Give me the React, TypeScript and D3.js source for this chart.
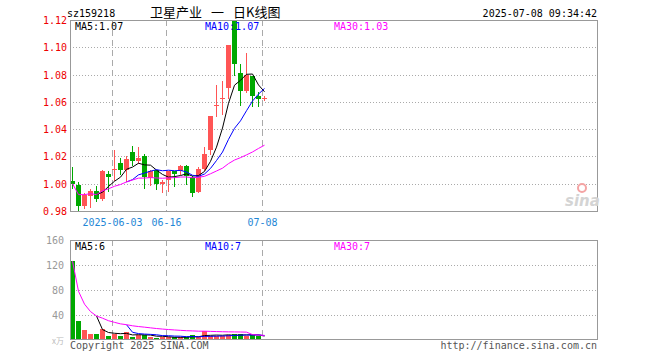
import React, { useRef, useEffect } from 'react'
import * as d3 from 'd3'

// trading days shown on the chart
const dates = [
  '2025-05-22', '2025-05-23', '2025-05-26', '2025-05-27', '2025-05-28', '2025-05-29', '2025-05-30',
  '2025-06-03', '2025-06-04', '2025-06-05', '2025-06-06', '2025-06-09', '2025-06-10', '2025-06-11',
  '2025-06-12', '2025-06-13', '2025-06-16', '2025-06-17', '2025-06-18', '2025-06-19', '2025-06-20',
  '2025-06-23', '2025-06-24', '2025-06-25', '2025-06-26', '2025-06-27', '2025-06-30', '2025-07-01',
  '2025-07-02', '2025-07-03', '2025-07-04', '2025-07-07', '2025-07-08',
]
const opens = [1.002, 0.999, 0.984, 0.991, 0.995, 0.989, 1.007, 1.010, 1.015, 1.010, 1.023, 1.017, 1.020, 1.004, 1.010, 1.000, 1.003, 1.009, 1.009, 1.013, 1.005, 0.994, 1.011, 1.025, 1.057, 1.062, 1.070, 1.120, 1.081, 1.068, 1.079, 1.064, 1.062]
const highs = [1.012, 1.001, 0.993, 0.996, 0.998, 1.010, 1.009, 1.025, 1.019, 1.020, 1.028, 1.027, 1.022, 1.010, 1.010, 1.003, 1.009, 1.009, 1.014, 1.014, 1.006, 1.012, 1.027, 1.050, 1.072, 1.075, 1.102, 1.120, 1.088, 1.096, 1.079, 1.067, 1.064]
const lows = [0.997, 0.981, 0.982, 0.983, 0.987, 0.988, 0.995, 1.003, 1.007, 1.002, 1.014, 1.015, 0.997, 0.999, 0.996, 0.994, 0.995, 0.998, 1.007, 1.000, 0.991, 0.994, 1.010, 1.022, 1.050, 1.051, 1.063, 1.080, 1.058, 1.067, 1.057, 1.057, 1.061]
const closes = [1.000, 0.984, 0.992, 0.995, 0.989, 1.009, 1.005, 1.011, 1.010, 1.018, 1.017, 1.019, 1.005, 1.009, 1.000, 1.001, 1.009, 1.007, 1.013, 1.006, 0.993, 1.011, 1.022, 1.050, 1.058, 1.063, 1.102, 1.088, 1.068, 1.080, 1.064, 1.062, 1.063]
// volume in 万
const volumes = [126, 30, 16, 10, 10, 17.5, 6.5, 10, 6.5, 12.5, 5, 8.5, 8.5, 5, 3.5, 4.5, 4.5, 4.5, 4.5, 4.5, 8, 4.5, 14, 6.5, 6.5, 6.5, 8, 10, 9, 7, 8, 6.5, 1.5]

const markDates = ['2025-06-03', '2025-06-16', '2025-07-08']
const markLabels = ['2025-06-03', '06-16', '07-08']
const priceTicks = [0.98, 1.0, 1.02, 1.04, 1.06, 1.08, 1.1, 1.12]
const volTicks = [40, 80, 120, 160]

const RED = '#ff5555'
const GREEN = '#00a800'
const MA_COLORS = ['#000000', '#0000ff', '#ff00ff']

// MA5 / MA10 start when enough data, MA30 averages what is there
const movingAvg = (arr: number[], n: number, partial: boolean) =>
  arr.map((v, i) => (i < n - 1 ? (partial ? d3.mean(arr.slice(0, i + 1)) : null) : d3.mean(arr.slice(i - n + 1, i + 1))))

const App = () => {
  const svgRef = useRef<SVGSVGElement>(null)

  useEffect(() => {
    const svg = d3.select(svgRef.current)
    svg.selectAll('*').remove()
    const mono = 'DejaVu Sans Mono, monospace'

    const left = 70, right = 597
    const x = d3.scaleBand<string>().domain(dates).range([left, left + 6 * dates.length])
    const y = d3.scaleLinear().domain([0.98, 1.12]).range([211, 20])
    const yv = d3.scaleLinear().domain([0, 160]).range([340, 240])
    const bx = (i: number) => x(dates[i]) as number
    const crisp = (v: number) => Math.round(v) + 0.5

    svg.append('rect').attr('width', 660).attr('height', 360).attr('fill', '#fff')

    // horizontal dotted grid
    priceTicks.slice(1, -1).forEach(t => {
      svg.append('line').attr('x1', left).attr('x2', right).attr('y1', crisp(y(t))).attr('y2', crisp(y(t)))
        .attr('stroke', '#aaa').attr('stroke-dasharray', '1,2')
    })
    volTicks.slice(0, -1).forEach(t => {
      svg.append('line').attr('x1', left).attr('x2', right).attr('y1', crisp(yv(t))).attr('y2', crisp(yv(t)))
        .attr('stroke', '#aaa').attr('stroke-dasharray', '1,2')
    })

    // vertical dashed date lines
    markDates.forEach((d, k) => {
      const xx = crisp(x(d) as number)
      ;[[20, 211], [240, 340]].forEach(([t, b]) => {
        svg.append('line').attr('x1', xx).attr('x2', xx).attr('y1', t).attr('y2', b)
          .attr('stroke', '#aaa').attr('stroke-dasharray', '6,4')
      })
      svg.append('text').attr('x', xx).attr('y', 226).attr('text-anchor', 'middle')
        .attr('font-family', mono).attr('font-size', 10).attr('fill', '#1f87d6').text(markLabels[k])
    })

    // candles
    dates.forEach((d, i) => {
      const up = closes[i] >= opens[i]
      const col = up ? RED : GREEN
      const xs = bx(i)
      svg.append('line').attr('x1', xs + 2.5).attr('x2', xs + 2.5)
        .attr('y1', Math.round(y(highs[i]))).attr('y2', Math.round(y(lows[i])) + 1).attr('stroke', col)
      const top = Math.round(y(Math.max(opens[i], closes[i])))
      const bot = Math.round(y(Math.min(opens[i], closes[i])))
      svg.append('rect').attr('x', xs).attr('width', 5).attr('y', top).attr('height', Math.max(1, bot - top)).attr('fill', col)

      const vt = Math.round(yv(volumes[i]))
      svg.append('rect').attr('x', xs).attr('width', 5).attr('y', vt).attr('height', 340 - vt).attr('fill', col)
    })

    // moving averages
    const spans: [number, boolean][] = [[5, false], [10, false], [30, true]]
    const priceMA = spans.map(([n, p]) => movingAvg(closes, n, p))
    const volMA = spans.map(([n, p]) => movingAvg(volumes, n, p))
    const drawMA = (series: (number | null | undefined)[], scale: d3.ScaleLinear<number, number>, color: string) => {
      const ln = d3.line<[number, number | null | undefined]>()
        .defined(d => d[1] != null)
        .x(d => bx(d[0]) + 2.5)
        .y(d => scale(d[1] as number))
      svg.append('path').datum(series.map((v, i) => [i, v] as [number, number | null | undefined]))
        .attr('d', ln).attr('fill', 'none').attr('stroke', color).attr('stroke-width', 1)
    }
    priceMA.forEach((s, k) => drawMA(s, y, MA_COLORS[k]))
    volMA.forEach((s, k) => drawMA(s, yv, MA_COLORS[k]))

    // panel borders
    svg.append('rect').attr('x', left + 0.5).attr('y', 20.5).attr('width', right - left).attr('height', 191)
      .attr('fill', 'none').attr('stroke', '#999')
    svg.append('rect').attr('x', left + 0.5).attr('y', 240.5).attr('width', right - left).attr('height', 99)
      .attr('fill', 'none').attr('stroke', '#999')

    // axis labels
    priceTicks.forEach(t => {
      svg.append('text').attr('x', 67).attr('y', y(t) + 4).attr('text-anchor', 'end')
        .attr('font-family', mono).attr('font-size', 10).attr('fill', '#ee0000').text(d3.format('.2f')(t))
    })
    volTicks.forEach(t => {
      svg.append('text').attr('x', 64).attr('y', yv(t) + 4).attr('text-anchor', 'end')
        .attr('font-family', mono).attr('font-size', 10).attr('fill', '#999').text(t)
    })
    svg.append('text').attr('x', 64).attr('y', 344).attr('text-anchor', 'end')
      .attr('font-family', 'Noto Sans CJK SC').attr('font-size', 8).attr('fill', '#bbb').text('x万')

    // MA readouts
    const last = dates.length - 1
    const maNames = ['MA5', 'MA10', 'MA30']
    const maX = [75, 205, 334]
    maNames.forEach((m, k) => {
      svg.append('text').attr('x', maX[k]).attr('y', 30).attr('font-family', mono).attr('font-size', 10)
        .attr('fill', MA_COLORS[k]).text(`${m}:${d3.format('.2f')(priceMA[k][last] as number)}`)
      svg.append('text').attr('x', maX[k]).attr('y', 250).attr('font-family', mono).attr('font-size', 10)
        .attr('fill', MA_COLORS[k]).text(`${m}:${Math.round(volMA[k][last] as number)}`)
    })

    // header
    svg.append('text').attr('x', 67).attr('y', 17).attr('font-family', mono).attr('font-size', 10).text('sz159218')
    const title = svg.append('text').attr('y', 17).attr('font-family', 'Noto Sans CJK SC').attr('font-size', 13)
    title.append('tspan').attr('x', 150).text('卫星产业')
    title.append('tspan').attr('x', 211).text('一')
    title.append('tspan').attr('x', 233).text('日K线图')
    svg.append('text').attr('x', 597).attr('y', 17).attr('text-anchor', 'end').attr('font-family', mono)
      .attr('font-size', 10).text('2025-07-08 09:34:42')

    // footer
    svg.append('text').attr('x', 70).attr('y', 349).attr('font-family', mono).attr('font-size', 10)
      .attr('fill', '#555').text('Copyright 2025 SINA.COM')
    svg.append('text').attr('x', 597).attr('y', 349).attr('text-anchor', 'end').attr('font-family', mono)
      .attr('font-size', 10).attr('fill', '#555').text('http://finance.sina.com.cn')

    // sina watermark
    svg.append('circle').attr('cx', 582).attr('cy', 188).attr('r', 4).attr('fill', 'none')
      .attr('stroke', '#f4a4a4').attr('stroke-width', 2)
    svg.append('text').attr('x', 565).attr('y', 206).attr('font-family', 'DejaVu Sans').attr('font-style', 'italic')
      .attr('font-weight', 'bold').attr('font-size', 15).attr('fill', '#d4d4d4').text('sina')
  }, [])

  return (
    <svg ref={svgRef} width={660} height={360} style={{ position: 'absolute', left: 0, top: 0 }} />
  )
}

export default App
